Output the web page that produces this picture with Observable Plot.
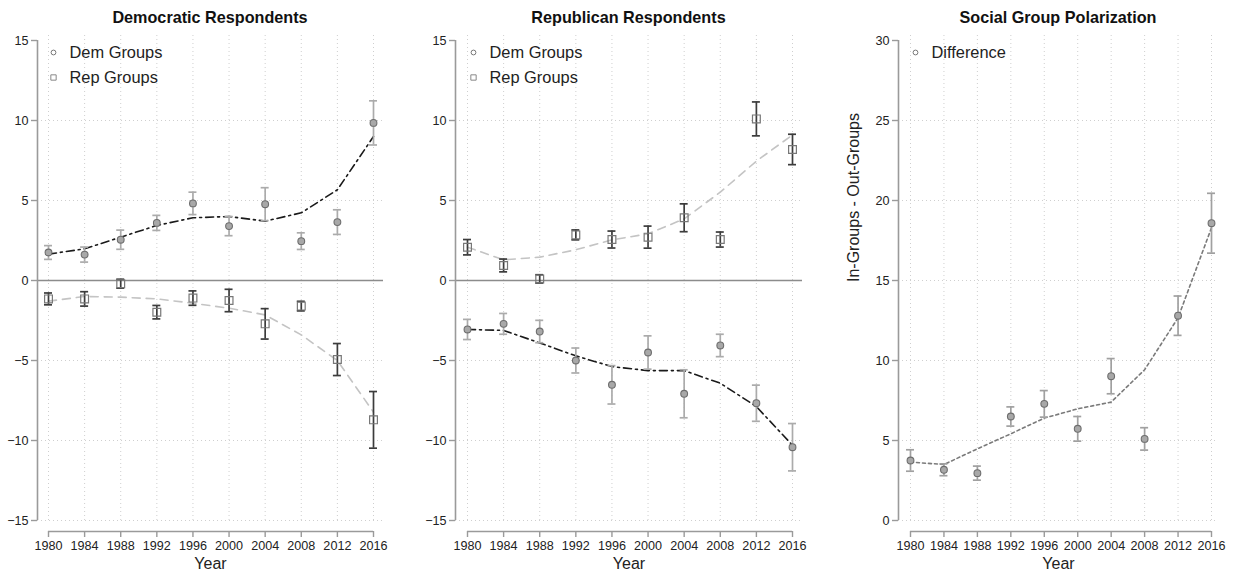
<!DOCTYPE html>
<html><head><meta charset="utf-8">
<script src="https://cdn.jsdelivr.net/npm/d3@7"></script>
<script src="https://cdn.jsdelivr.net/npm/@observablehq/plot@0.6"></script>
<style>
body{margin:0;background:#fff;font-family:"Liberation Sans",Arial,sans-serif;}
#root{position:relative;width:1234px;height:579px;overflow:hidden;background:#fff}
.panel{position:absolute;top:0;height:579px}
.title{position:absolute;top:6px;line-height:22px;font-weight:bold;font-size:16.2px;color:#111;transform:translateX(-50%);white-space:nowrap}
.panel svg{position:absolute;top:28px;left:0}
</style></head><body><div id="root"></div><script>
// ---- data ----
const years = [1980, 1984, 1988, 1992, 1996, 2000, 2004, 2008, 2012, 2016];
const titles = ["Democratic Respondents", "Republican Respondents", "Social Group Polarization"];
const yTicksPartisan = [-15, -10, -5, 0, 5, 10, 15];
const yTicksDiff = [0, 5, 10, 15, 20, 25, 30];

// Panel 1: Democratic respondents
const demRespDemGroups    = [1.75, 1.62, 2.55, 3.60, 4.82, 3.40, 4.77, 2.46, 3.65, 9.85];
const demRespDemGroupsErr = [0.43, 0.47, 0.60, 0.47, 0.70, 0.60, 1.03, 0.52, 0.77, 1.38];
const demRespDemFit       = [1.65, 1.98, 2.71, 3.44, 3.92, 4.00, 3.71, 4.23, 5.67, 9.00];
const demRespRepGroups    = [-1.15, -1.15, -0.20, -1.98, -1.10, -1.25, -2.71, -1.60, -4.94, -8.71];
const demRespRepGroupsErr = [0.37, 0.45, 0.28, 0.42, 0.45, 0.70, 0.95, 0.30, 1.00, 1.77];
const demRespRepFit       = [-1.29, -1.00, -1.04, -1.15, -1.42, -1.73, -2.15, -3.40, -5.00, -8.23];

// Panel 2: Republican respondents
const repRespRepGroups    = [2.08, 0.94, 0.10, 2.85, 2.56, 2.71, 3.92, 2.56, 10.10, 8.19];
const repRespRepGroupsErr = [0.48, 0.40, 0.26, 0.31, 0.53, 0.69, 0.87, 0.47, 1.06, 0.95];
const repRespRepFit       = [2.08, 1.29, 1.46, 1.92, 2.54, 2.92, 3.85, 5.52, 7.46, 9.10];
const repRespDemGroups    = [-3.06, -2.71, -3.19, -5.00, -6.52, -4.50, -7.08, -4.06, -7.67, -10.42];
const repRespDemGroupsErr = [0.63, 0.65, 0.70, 0.78, 1.20, 1.04, 1.50, 0.70, 1.13, 1.48];
const repRespDemFit       = [-3.06, -3.12, -3.90, -4.71, -5.38, -5.63, -5.63, -6.42, -7.88, -10.30];

// Panel 3: difference (in-groups minus out-groups)
const difference    = [3.75, 3.17, 2.96, 6.50, 7.29, 5.73, 9.02, 5.10, 12.80, 18.58];
const differenceErr = [0.67, 0.37, 0.44, 0.60, 0.83, 0.77, 1.10, 0.70, 1.23, 1.87];
const differenceFit = [3.65, 3.50, 4.48, 5.42, 6.40, 6.98, 7.40, 9.42, 12.67, 18.30];

// ---- helpers ----
function rows(vals, errs, fit) {
  return years.map((year, i) => ({year, v: vals[i], lo: vals[i] - errs[i], hi: vals[i] + errs[i], fit: fit[i]}));
}
const FONT = '"Liberation Sans", Arial, sans-serif';

function seriesMarks(data, s) {
  const cap = {stroke: s.barColor, strokeWidth: 1.7, insetLeft: -4, insetRight: -4};
  const marks = [
    Plot.line(data, {x: "year", y: "fit", stroke: s.fitColor, strokeWidth: 1.6, strokeDasharray: s.dash})
  ];
  marks.push(
    Plot.ruleX(data, {x: "year", y1: "lo", y2: "hi", stroke: s.barColor, strokeWidth: 1.7}),
    Plot.ruleY(data, {x1: "year", x2: "year", y: "hi", ...cap}),
    Plot.ruleY(data, {x1: "year", x2: "year", y: "lo", ...cap})
  );
  if (s.symbol === "square") {
    marks.push(Plot.dot(data, {x: "year", y: "v", symbol: "square", r: 4.4, stroke: "#777", strokeWidth: 1.2, fill: "none"}));
  } else {
    marks.push(Plot.dot(data, {x: "year", y: "v", r: 3.4, stroke: "#6e6e6e", strokeWidth: 1.1, fill: "#a8a8a8"}));
  }
  return marks;
}

function panel(cfg) {
  const wrap = document.createElement("div");
  wrap.className = "panel";
  wrap.style.left = cfg.left + "px";
  wrap.style.width = cfg.width + "px";
  const pxPerYear = (cfg.x2016 - cfg.x1980) / 36;
  const xMin = 1980 - (cfg.x1980 - cfg.axisX) / pxPerYear;
  const xMax = 2016 + (cfg.rightX - cfg.x2016) / pxPerYear;
  const yLo = cfg.yTicks[0], yHi = cfg.yTicks[cfg.yTicks.length - 1];
  const pxPerUnit = 480 / (yHi - yLo);
  const yMin = yLo - 11 / pxPerUnit;
  const yMax = yHi + 8 / pxPerUnit;

  const gridY = cfg.yTicks.filter(t => t !== yHi && !(cfg.zeroLine && t === 0));
  const marks = [
    Plot.ruleX(years, {x: d => d, y1: yLo, y2: yMax, stroke: "#cfcfcf", strokeWidth: 1, strokeDasharray: "1,3"}),
    Plot.ruleY(gridY, {y: d => d, stroke: "#cfcfcf", strokeWidth: 1, strokeDasharray: "1,3"}),
  ];
  if (cfg.zeroLine) marks.push(Plot.ruleY([0], {stroke: "#8c8c8c", strokeWidth: 1.6}));
  // axis lines
  marks.push(
    Plot.ruleX([xMin], {x: d => d, y1: yLo, y2: yHi, stroke: "#9a9a9a", strokeWidth: 1.6}),
    Plot.ruleY([yMin], {y: d => d, x1: 1980, x2: 2016, stroke: "#9a9a9a", strokeWidth: 1.6}),
    Plot.axisY(cfg.yTicks, {anchor: "left", tickSize: 6, tickPadding: 3, stroke: "#9a9a9a", strokeWidth: 1.4, fill: "#222", fontSize: 12.6, label: null}),
    Plot.axisX(years, {anchor: "bottom", tickSize: 6, tickPadding: 4, stroke: "#9a9a9a", strokeWidth: 1.4, fill: "#222", fontSize: 12.6, tickFormat: d => String(d), label: null}),
    Plot.text(["Year"], {frameAnchor: "bottom", dy: 37, text: d => d, fontSize: 16, fill: "#222"})
  );
  for (const s of cfg.series) marks.push(...seriesMarks(s.data, s));
  // legend
  cfg.legend.forEach((lg, i) => {
    const dy = 20 + i * 25;
    if (lg.symbol === "square")
      marks.push(Plot.dot([0], {frameAnchor: "top-left", dx: cfg.legendDx, dy, symbol: "square", r: 3, stroke: "#888", strokeWidth: 1, fill: "none"}));
    else
      marks.push(Plot.dot([0], {frameAnchor: "top-left", dx: cfg.legendDx, dy, r: 2.4, stroke: "#777", strokeWidth: 1, fill: "none"}));
    marks.push(Plot.text([lg.label], {frameAnchor: "top-left", dx: cfg.legendDx + 16, dy, text: d => d, textAnchor: "start", lineAnchor: "middle", fontSize: 16.4, fill: "#222"}));
  });
  if (cfg.yLabel) marks.push(Plot.text([cfg.yLabel], {frameAnchor: "left", dx: -45, rotate: -90, text: d => d, fontSize: 16, fill: "#222"}));

  const svg = Plot.plot({
    width: cfg.width,
    height: 551,
    marginLeft: cfg.axisX - cfg.left,
    marginRight: cfg.left + cfg.width - cfg.rightX,
    marginTop: 4,
    marginBottom: 48,
    style: {fontFamily: FONT, background: "transparent", overflow: "visible"},
    x: {domain: [xMin, xMax], axis: null},
    y: {domain: [yMin, yMax], axis: null},
    marks
  });
  const t = document.createElement("div");
  t.className = "title";
  t.textContent = cfg.title;
  t.style.left = ((cfg.axisX + cfg.rightX) / 2 - cfg.left) + "px";
  wrap.appendChild(t);
  wrap.appendChild(svg);
  document.getElementById("root").appendChild(wrap);
}

const dashDot = "8,4,2,4";
const dashed = "8,6";
const dotted = "3,3";

panel({
  title: titles[0], left: 0, width: 400, axisX: 37, x1980: 48, x2016: 373, rightX: 383,
  yTicks: yTicksPartisan, zeroLine: true, legendDx: 16,
  legend: [{label: "Dem Groups", symbol: "circle"}, {label: "Rep Groups", symbol: "square"}],
  series: [
    {data: rows(demRespRepGroups, demRespRepGroupsErr, demRespRepFit), symbol: "square", barColor: "#3c3c3c", fitColor: "#c4c4c4", dash: dashed},
    {data: rows(demRespDemGroups, demRespDemGroupsErr, demRespDemFit), symbol: "circle", barColor: "#ababab", fitColor: "#1a1a1a", dash: dashDot}
  ]
});

panel({
  title: titles[1], left: 410, width: 405, axisX: 455, x1980: 467, x2016: 792, rightX: 802,
  yTicks: yTicksPartisan, zeroLine: true, legendDx: 18,
  legend: [{label: "Dem Groups", symbol: "circle"}, {label: "Rep Groups", symbol: "square"}],
  series: [
    {data: rows(repRespRepGroups, repRespRepGroupsErr, repRespRepFit), symbol: "square", barColor: "#3c3c3c", fitColor: "#c4c4c4", dash: dashed},
    {data: rows(repRespDemGroups, repRespDemGroupsErr, repRespDemFit), symbol: "circle", barColor: "#ababab", fitColor: "#1a1a1a", dash: dashDot}
  ]
});

panel({
  title: titles[2], left: 830, width: 404, axisX: 898, x1980: 910, x2016: 1211, rightX: 1218,
  yTicks: yTicksDiff, zeroLine: false, legendDx: 17, yLabel: "In-Groups - Out-Groups",
  legend: [{label: "Difference", symbol: "circle"}],
  series: [
    {data: rows(difference, differenceErr, differenceFit), symbol: "circle", barColor: "#a0a0a0", fitColor: "#7a7a7a", dash: dotted}
  ]
});
</script></body></html>
